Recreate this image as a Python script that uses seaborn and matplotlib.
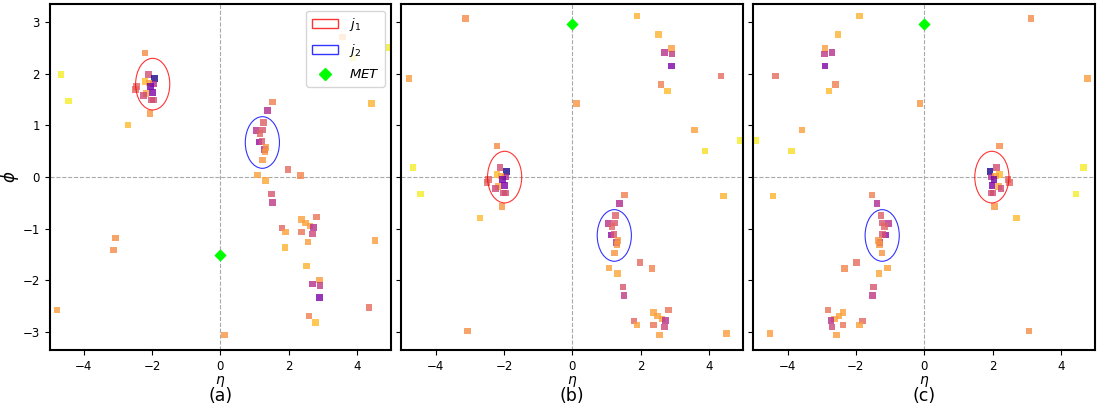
import numpy as np
import pandas as pd
import matplotlib
matplotlib.use("Agg")
import matplotlib.pyplot as plt
from matplotlib.patches import Ellipse, Patch
from matplotlib.lines import Line2D
import seaborn as sns

# particle constituents as seen in the original event (panel a)
eta = [-2.20, -2.11, -1.92, -1.96, -2.20, -2.09, -2.04, -2.45, -2.49, -1.99,
       -2.17, -2.25, -1.96, -2.01, -2.06, -2.70, -4.66, -4.44, 3.58, 3.88,
       4.92, 4.42, 1.53, 1.38, 1.26, 1.05, 1.23, 1.16, 1.13, 1.22,
       1.29, 1.34, 1.31, 1.23, 1.98, 2.34, 1.08, 1.32, 1.49, 1.52,
       2.37, 2.81, 2.49, 2.63, 2.73, 1.80, 1.90, 2.37, 2.70, 2.56,
       1.89, -3.07, -3.13, 4.52, 2.52, 2.90, 2.70, 2.92, 2.90, 4.35,
       2.60, 2.78, -4.78, 0.12]
phi = [2.40, 1.99, 1.91, 1.80, 1.85, 1.82, 1.75, 1.75, 1.70, 1.64,
       1.62, 1.58, 1.49, 1.49, 1.23, 1.01, 1.99, 1.47, 2.71, 2.31,
       2.51, 1.43, 1.45, 1.29, 1.06, 0.90, 0.91, 0.84, 0.68, 0.69,
       0.53, 0.57, 0.49, 0.33, 0.15, 0.03, 0.04, -0.07, -0.33, -0.49,
       -0.82, -0.77, -0.89, -0.95, -0.98, -0.99, -1.06, -1.06, -1.10, -1.26,
       -1.36, -1.18, -1.41, -1.23, -1.72, -1.99, -2.07, -2.10, -2.33, -2.53,
       -2.69, -2.82, -2.57, -3.06]
# colour position on the plasma scale (0 = hardest)
shade = [0.72, 0.52, 0.02, 0.40, 0.85, 0.78, 0.22, 0.60, 0.60, 0.25,
         0.80, 0.50, 0.52, 0.52, 0.75, 0.85, 0.97, 0.97, 0.78, 0.93,
         0.97, 0.83, 0.68, 0.40, 0.58, 0.42, 0.55, 0.60, 0.30, 0.55,
         0.40, 0.75, 0.75, 0.75, 0.62, 0.70, 0.78, 0.80, 0.55, 0.45,
         0.78, 0.65, 0.78, 0.78, 0.42, 0.60, 0.78, 0.65, 0.50, 0.77,
         0.83, 0.73, 0.72, 0.77, 0.83, 0.77, 0.42, 0.45, 0.25, 0.62,
         0.68, 0.85, 0.77, 0.75]

j1 = (-1.98, 1.80)
j2 = (1.23, 0.67)
met = (0.0, -1.51)
jet_r = 0.5

panel_names = ["(a)", "(b)", "(c)"]


def wrap(p):
    return (np.asarray(p) + np.pi) % (2 * np.pi) - np.pi


def transform(x, y, step):
    """step 0: raw, 1: rotate phi so j1 sits at 0, 2: also flip eta"""
    x = np.asarray(x, dtype=float)
    y = np.asarray(y, dtype=float)
    if step >= 1:
        y = wrap(y - j1[1])
    if step >= 2:
        x = -x
    return x, y


fig, axes = plt.subplots(1, 3, figsize=(11, 4.09), dpi=100, sharey=True)
fig.subplots_adjust(left=0.045, right=0.9955, top=0.99, bottom=0.144, wspace=0.03)

for i, ax in enumerate(axes):
    x, y = transform(eta, phi, i)
    df = pd.DataFrame({"eta": x, "phi": y, "shade": shade})
    ax.axhline(0, color="darkgray", ls="--", lw=0.8, zorder=0)
    ax.axvline(0, color="darkgray", ls="--", lw=0.8, zorder=0)
    sns.scatterplot(data=df, x="eta", y="phi", hue="shade", palette="plasma",
                    hue_norm=(0, 1), marker="s", s=22, alpha=0.8,
                    linewidth=0, legend=False, ax=ax)
    for jet, col in [(j1, "red"), (j2, "blue")]:
        jx, jy = transform([jet[0]], [jet[1]], i)
        ax.add_patch(Ellipse((jx[0], jy[0]), 2 * jet_r, 2 * jet_r, fill=False,
                             edgecolor=col, lw=0.8, alpha=0.8))
    mx, my = transform([met[0]], [met[1]], i)
    ax.scatter(mx, my, marker="D", s=28, color="lime", zorder=3)

    ax.set_xlim(-5, 5)
    ax.set_ylim(-3.35, 3.35)
    ax.set_xticks([-4, -2, 0, 2, 4])
    ax.set_yticks([-3, -2, -1, 0, 1, 2, 3])
    ax.tick_params(labelsize=8.5)
    ax.set_xlabel(r"$\eta$", fontsize=10, labelpad=1)
    ax.set_ylabel("")
    ax.text(0.5, -0.108, panel_names[i], transform=ax.transAxes,
            ha="center", va="top", fontsize=12.5)
    for sp in ax.spines.values():
        sp.set_linewidth(1.5)

axes[0].set_ylabel(r"$\phi$", fontsize=12, labelpad=1)

handles = [Patch(facecolor="none", edgecolor="red", alpha=0.8, label=r"$j_1$"),
           Patch(facecolor="none", edgecolor="blue", alpha=0.8, label=r"$j_2$"),
           Line2D([], [], marker="D", color="lime", ls="none", markersize=6,
                  label=r"$MET$")]
axes[0].legend(handles=handles, loc="upper right", fontsize=9.5, labelspacing=0.7)

fig.savefig("out.png", dpi=100)
